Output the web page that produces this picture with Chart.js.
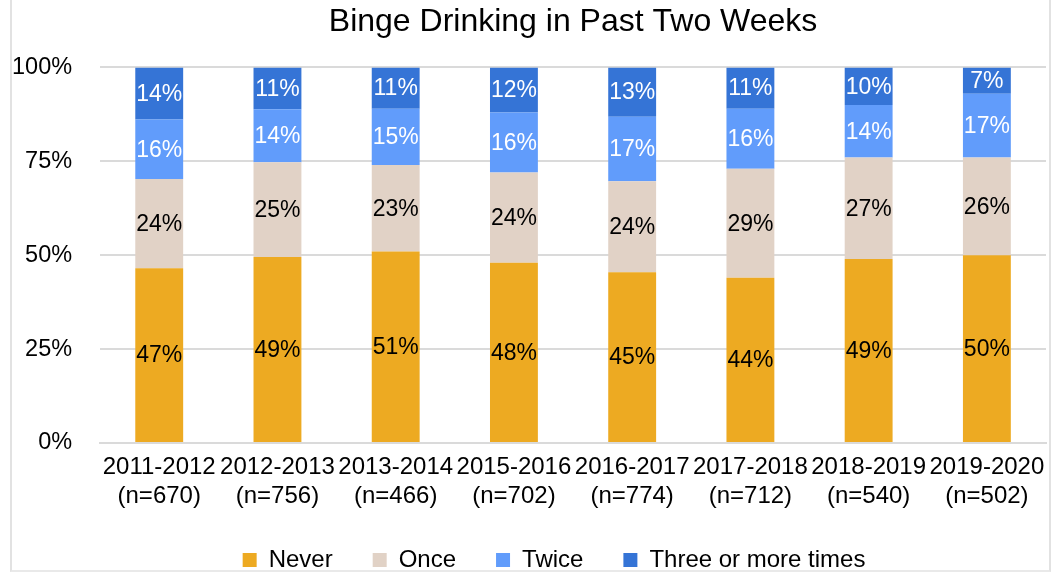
<!DOCTYPE html>
<html>
<head>
<meta charset="utf-8">
<script src="https://cdn.jsdelivr.net/npm/chart.js@4"></script>
<style>
  html, body { margin: 0; padding: 0; background: #fff; }
  #wrap { position: relative; width: 1060px; height: 573px; }
  #frame { position: absolute; left: 10px; top: 0; width: 1037px; height: 570px;
           border-left: 2px solid #e2e2e2; border-right: 2px solid #e2e2e2; border-bottom: 2px solid #e9e9e9; }
  #myChart { position: absolute; left: 0; top: 0; }
</style>
</head>
<body>
<div id="wrap">
  <div id="frame"></div>
  <canvas id="myChart" width="1060" height="573"></canvas>
</div>
<script>
// school years and sample sizes
const years = ['2011-2012', '2012-2013', '2013-2014', '2015-2016', '2016-2017', '2017-2018', '2018-2019', '2019-2020']
const sizes = ['(n=670)', '(n=756)', '(n=466)', '(n=702)', '(n=774)', '(n=712)', '(n=540)', '(n=502)']

// percent per answer, as printed on the bars
const never = [47, 49, 51, 48, 45, 44, 49, 50]
const once = [24, 25, 23, 24, 24, 29, 27, 26]
const twice = [16, 14, 15, 16, 17, 16, 14, 17]
const threePlus = [14, 11, 11, 12, 13, 11, 10, 7]

const yTicks = [0, 25, 50, 75, 100]

// bars are drawn as 100% stacked, so scale each year to its total
const totals = years.map((y, i) => never[i] + once[i] + twice[i] + threePlus[i])
const share = (arr) => arr.map((v, i) => v / totals[i] * 100)

const family = '"Liberation Sans", Arial, sans-serif'

// draws the printed percentage in the middle of each segment
const barLabels = {
    id: 'barLabels',
    afterLayout(chart) {
        // legend sits a bit left of the plot centre in the original
        chart.legend.left -= 19
        chart.legend.right -= 19
    },
    afterDatasetsDraw(chart) {
        const ctx = chart.ctx
        ctx.save()
        ctx.font = '23px ' + family
        ctx.textAlign = 'center'
        ctx.textBaseline = 'middle'
        chart.data.datasets.forEach((ds, di) => {
            const meta = chart.getDatasetMeta(di)
            meta.data.forEach((bar, i) => {
                const mid = (bar.y + bar.base) / 2
                ctx.fillStyle = ds.labelColor
                ctx.fillText(ds.printed[i] + '%', bar.x, mid + 1)
            })
        })
        ctx.restore()
    }
}

const ctx = document.getElementById('myChart')
new Chart(ctx, {
    type: 'bar',
    data: {
        labels: years.map((y, i) => [y, sizes[i]]),
        datasets: [
            { label: 'Never', data: share(never), printed: never, backgroundColor: '#EDAA22', labelColor: '#000' },
            { label: 'Once', data: share(once), printed: once, backgroundColor: '#E1D2C6', labelColor: '#000' },
            { label: 'Twice', data: share(twice), printed: twice, backgroundColor: '#619CFB', labelColor: '#fff' },
            { label: 'Three or more times', data: share(threePlus), printed: threePlus, backgroundColor: '#3574D6', labelColor: '#fff' }
        ]
    },
    options: {
        responsive: false,
        animation: false,
        // y axis reserves tick padding on both sides, so pull it left
        layout: { padding: { left: -16, right: 14, top: 0, bottom: -9 } },
        datasets: {
            bar: { barPercentage: 0.405, categoryPercentage: 1.0, borderWidth: 0 }
        },
        scales: {
            x: {
                stacked: true,
                grid: { display: false },
                border: { color: '#dadada', width: 2 },
                // labels may overhang the plot edges, like the original
                afterFit: (s) => { s.paddingLeft = 0; s.paddingRight = 0; s.height = 65 },
                ticks: {
                    color: '#000',
                    padding: 2,
                    maxRotation: 0,
                    autoSkip: false,
                    font: { family: family, size: 24, lineHeight: 1.2 }
                }
            },
            y: {
                stacked: true,
                min: 0,
                max: 100,
                afterBuildTicks: (axis) => { axis.ticks = yTicks.map(v => ({ value: v })) },
                grid: { color: '#dadada', lineWidth: 2, drawTicks: false },
                border: { display: false },
                ticks: {
                    color: '#000',
                    padding: 28,
                    callback: (v) => v + '%',
                    font: { family: family, size: 23.5 }
                }
            }
        },
        plugins: {
            title: {
                display: true,
                fullSize: false,
                text: 'Binge Drinking in Past Two Weeks',
                color: '#000',
                font: { family: family, size: 32, weight: 'normal' },
                padding: { top: 3, bottom: 26 }
            },
            legend: {
                position: 'bottom',
                fullSize: false,
                labels: {
                    color: '#000',
                    boxWidth: 14,
                    boxHeight: 14,
                    padding: 40,
                    font: { family: family, size: 24 }
                }
            },
            tooltip: { enabled: false }
        }
    },
    plugins: [barLabels]
})
</script>
</body>
</html>
